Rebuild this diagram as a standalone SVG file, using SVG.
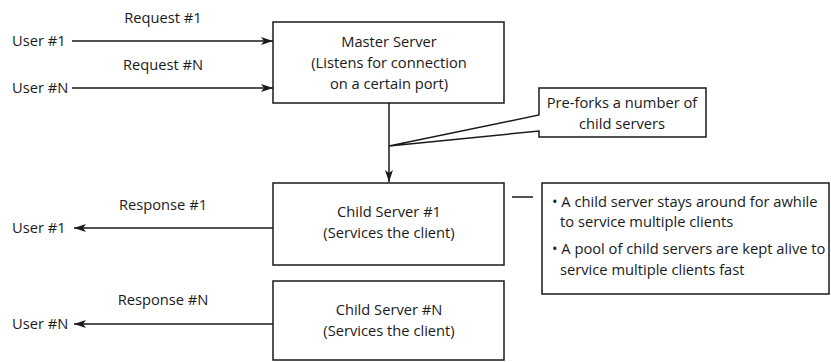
<svg xmlns="http://www.w3.org/2000/svg" width="831" height="362" viewBox="0 0 831 362">
<defs>
<style>
text{font-family:"Open Sans","Noto Sans","DejaVu Sans",sans-serif;font-size:14.7px;fill:#1a1a1a}
.c{text-anchor:middle}
.box{fill:#fff;stroke:#1a1a1a;stroke-width:1.5}
.ln{fill:none;stroke:#1a1a1a;stroke-width:1.5}
</style>
<marker id="ah" viewBox="0 0 12 8" refX="12" refY="4" markerWidth="12" markerHeight="8" markerUnits="userSpaceOnUse" orient="auto">
<path d="M0,0 L12,4 L0,8 L3,4 Z" fill="#1a1a1a"/>
</marker>
</defs>
<g id="connectors">
<line class="ln" x1="72" y1="41" x2="273" y2="41" marker-end="url(#ah)"/>
<line class="ln" x1="72" y1="88" x2="273" y2="88" marker-end="url(#ah)"/>
<line class="ln" x1="389" y1="103" x2="389" y2="182" marker-end="url(#ah)"/>
<line class="ln" x1="273" y1="228" x2="74" y2="228" marker-end="url(#ah)"/>
<line class="ln" x1="273" y1="324" x2="74" y2="324" marker-end="url(#ah)"/>
<line class="ln" x1="512" y1="197" x2="533" y2="197"/>
</g>
<g id="labels">
<text x="12" y="46">User #1</text>
<text x="12" y="93">User #N</text>
<text class="c" x="163" y="23">Request #1</text>
<text class="c" x="163" y="70">Request #N</text>
<text class="c" x="163" y="210">Response #1</text>
<text class="c" x="163" y="305">Response #N</text>
<text x="12" y="233">User #1</text>
<text x="12" y="329">User #N</text>
</g>
<g id="master">
<rect class="box" x="273" y="22" width="231" height="81"/>
<text class="c" x="389" y="47">Master Server</text>
<text class="c" x="389" y="68">(Listens for connection</text>
<text class="c" x="389" y="89">on a certain port)</text>
</g>
<g id="callout">
<path class="box" d="M539,88 L706,88 L706,137 L539,137 L539,131 L389,146 L539,115 Z"/>
<text class="c" x="622" y="108">Pre-forks a number of</text>
<text class="c" x="622" y="129">child servers</text>
</g>
<g id="child1">
<rect class="box" x="273" y="183" width="231" height="82"/>
<text class="c" x="389" y="217">Child Server #1</text>
<text class="c" x="389" y="238">(Services the client)</text>
</g>
<g id="childN">
<rect class="box" x="273" y="281" width="231" height="79"/>
<text class="c" x="389" y="315">Child Server #N</text>
<text class="c" x="389" y="336">(Services the client)</text>
</g>
<g id="notes">
<rect class="box" x="542" y="183" width="287" height="111"/>
<text x="552" y="207">• A child server stays around for awhile</text>
<text x="560" y="227">to service multiple clients</text>
<text x="552" y="254">• A pool of child servers are kept alive to</text>
<text x="560" y="275">service multiple clients fast</text>
</g>
</svg>
